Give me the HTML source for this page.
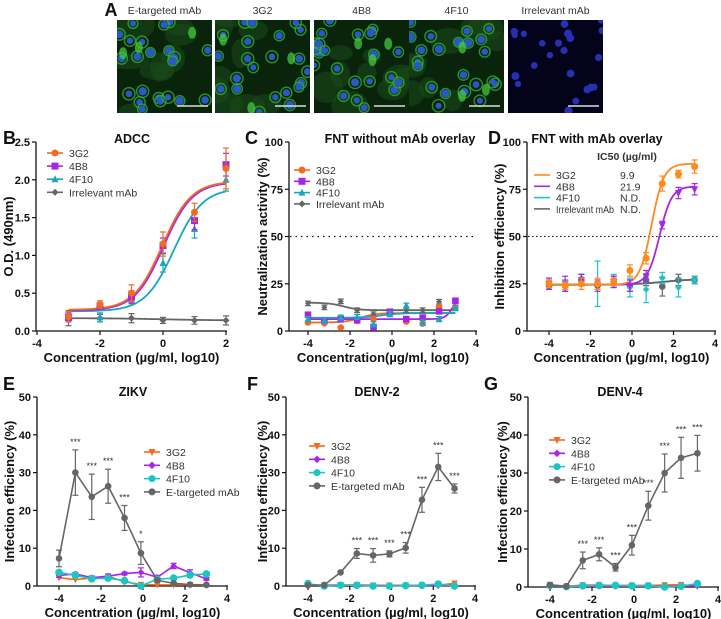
<!DOCTYPE html>
<html><head><meta charset="utf-8"><style>
html,body{margin:0;padding:0;background:#fff}
svg{display:block;font-family:"Liberation Sans",Arial,sans-serif}
.tk{font-size:11px;font-weight:bold;fill:#111}
.at{font-size:13px;font-weight:bold;fill:#111}
.tt{font-size:12.5px;font-weight:bold;fill:#111}
.pl{font-size:18px;font-weight:bold;fill:#111}
.lg{font-size:10.5px;fill:#333}
.st{font-size:9px;fill:#333}
</style></head><body>
<svg id="fig" width="721" height="619" viewBox="0 0 721 619" xmlns="http://www.w3.org/2000/svg">
<g id="imgs"></g>
<g id="charts"></g>
</svg>
<script>
// ---------- Panel A labels ----------
const imgLabels=["E-targeted mAb","3G2","4B8","4F10","Irrelevant mAb"];
// ---------- Panel B (ADCC) ----------
const bX=[-3,-2,-1,0,1,2];
const b3G2=[0.19,0.35,0.50,1.15,1.57,2.15];
const b3G2e=[0.07,0.05,0.11,0.16,0.12,0.27];
const b4B8=[0.18,0.33,0.45,1.13,1.46,2.20];
const b4B8e=[0.06,0.04,0.08,0.10,0.12,0.15];
const b4F10=[0.17,0.18,0.42,0.90,1.35,2.00];
const b4F10e=[0.05,0.06,0.06,0.12,0.12,0.15];
const bIrr=[0.17,0.17,0.17,0.14,0.14,0.14];
const bIrre=[0.1,0.05,0.06,0.04,0.05,0.06];
const bFit3G2=[0.28,1.98,-0.02,0.95];
const bFit4B8=[0.27,1.97,0.02,0.95];
const bFit4F10=[0.26,1.89,0.35,0.95];
const bFitIrr=[0.17,0.14,0,0.5];
// ---------- Panels C, D shared x ----------
const cdX=[-4,-3.22,-2.44,-1.66,-0.88,-0.1,0.68,1.46,2.24,3.02];
const cIrr=[14.6,12.5,15.7,11,8.9,10.2,11,11,15.5,12.5];
const c3G2=[4.5,4.1,1.8,5.4,6.3,9.8,5,3.9,12.9,12.5];
const c4B8=[8.6,5.4,6.3,5.7,2.1,10.2,6.3,7.1,10.4,16];
const c4F10=[6.3,5.4,7.1,7.5,3.6,8.9,13.4,4.5,6.3,12.1];
const cFitIrr=[15,11,-2.3,-1.2];
const cFit3G2=[4.5,9.5,-1.5,1.2];
const cFit4B8=[6.3,19,2.9,2.5];
const cFit4F10=[7,9.5,-0.5,1];
const d3G2=[25,24,25,25,26,32,38.5,78,83,87];
const d3G2e=[2,2,3,3,2,3,3,4,2,3.5];
const d4B8=[25,25,27,24,26,24,29,56,73,75];
const d4B8e=[3,4,3,3,3,3,3,2,3,3];
const d4F10=[25,25,28,25,27,23,22,28,23,27];
const d4F10e=[2,2,2,12,3,5,7,3,5,2];
const dIrr=[24,24,27,24,26,24,27,23.5,27,27];
const dIrre=[2,3,3,2,3,3,3,5,3,2];
const dFit3G2=[24.5,88.5,0.95,1.5];
const dFit4B8=[24.5,76.5,1.33,1.5];
const dFit4F10=[24.5,27.5,1.5,0.6];
const dFitIrr=[24.5,27.5,1.5,0.6];
const ic50Labels=["9.9","21.9","N.D.","N.D."];
// ---------- Panels E, F, G ----------
const efgX=[-4,-3.22,-2.44,-1.66,-0.88,-0.1,0.68,1.46,2.24,3.02];
const eE=[7.3,30,23.6,26.4,18,8.7,1.5,0.7,0.4,0.3];
const eEe=[2.2,6,6,4.5,3.3,3,0.5,0.3,0.2,0.2];
const e3G2=[2.2,1.7,2.1,2.6,1.1,0.4,0.3,0.3,0.3,0.2];
const e4B8=[2.8,3.2,2.2,2.6,3.3,3.6,2.3,5.3,3.5,1.9];
const e4B8e=[0.5,0.4,0.4,0.5,0.4,1.2,0.5,0.7,0.8,0.4];
const e4F10=[3.6,2.8,1.9,2.1,1.4,0,1.8,2.1,2.9,3.2];
const eStars=["","***","***","***","***","*","","","",""];
const fE=[0.2,0.3,3.6,8.6,8.1,8.5,10.1,22.8,31.5,25.8];
const fEe=[0,0,0.3,1.3,1.8,0.8,1.4,3.3,3.6,1.2];
const f3G2=[0.2,0.2,0.3,0.3,0.2,0.2,0.2,0.2,0.2,0.7];
const f4B8=[0.2,0.2,0.2,0.2,0.1,0.1,0.1,0.1,0.1,0.2];
const f4F10=[0.6,0.0,0.2,0.2,0.0,0.0,0.1,0.2,0.5,0.0];
const fStars=["","","","***","***","***","***","***","***","***"];
const gE=[0.5,0.2,7,8.6,5.2,11,21.4,30,34,35.2];
const gEe=[0.2,0.1,2.2,1.7,1,2.6,3.8,5,5.4,4.7];
const g3G2=[0.6,0.2,0.5,0.5,0.4,0.4,0.4,0.5,0.6,0.2];
const g4B8=[0.3,0.2,0.2,0.2,0.2,0.2,0.2,0.2,0.2,0.3];
const g4F10=[0.4,0.1,0.3,0.4,0.4,0.3,0.3,0.0,0.2,0.9];
const gStars=["","","***","***","***","***","***","***","***","***"];
const ticksB=[0,0.5,1,1.5,2,2.5];
const ticksB_lbl=["0.0","0.5","1.0","1.5","2.0","2.5"];
const ticksPct=[0,25,50,75,100];
const ticksInf=[0,10,20,30,40,50];
const xTicksB=[-4,-2,0,2];
const xTicks=[-4,-2,0,2,4];

const NS="http://www.w3.org/2000/svg";
const OR="#f36a21",PU="#a526e8",CY="#1cc4c4",TE="#1aa6bd",GR="#666666",DOR="#ff8a1c";
function mk(tag,at,par){const e=document.createElementNS(NS,tag);for(const k in at)e.setAttribute(k,at[k]);(par||document.getElementById('charts')).appendChild(e);return e;}
function txt(s,x,y,cls,par,anchor,extra){const t=mk('text',Object.assign({x:x,y:y,class:cls,'text-anchor':anchor||'middle'},extra||{}),par);t.textContent=s;return t;}

// ---------- microscopy images ----------
(function(){
 const g=document.getElementById('imgs');
 const xs=[117,215,314,409,508],w=95,h=93,y0=20;
 let seed=7;function rnd(){seed=(seed*9301+49297)%233280;return seed/233280;}
 for(let i=0;i<5;i++){
  const c=mk('g',{},g);
  
  
  mk('rect',{x:xs[i],y:y0,width:w,height:h,fill:i==4?'#03031c':'#0a240c'},c);
  const clip='cl'+i;const cp=mk('clipPath',{id:clip},c);mk('rect',{x:xs[i],y:y0,width:w,height:h},cp);
  const inner=mk('g',{'clip-path':'url(#'+clip+')'},c);
  if(i<4){for(let k=0;k<9;k++)mk('ellipse',{cx:xs[i]+rnd()*w,cy:y0+rnd()*h,rx:8+rnd()*14,ry:6+rnd()*10,fill:'#1a4a1a',opacity:0.55},inner);}
  for(let k=0;k<22;k++){const cx=xs[i]+rnd()*w,cy=y0+rnd()*h;
   if(i<4)mk('circle',{cx:cx,cy:cy,r:4.8+rnd()*1.5,fill:'none',stroke:'#34b534','stroke-width':1.4,opacity:0.75},inner);
   mk('circle',{cx:cx,cy:cy,r:3+rnd()*1.2,fill:i==4?'#2630b0':'#2a58c4'},inner);}
  if(i<4)for(let k=0;k<3;k++)mk('ellipse',{cx:xs[i]+rnd()*w,cy:y0+rnd()*h,rx:4,ry:6,fill:'#46d040',opacity:0.7},inner);
  mk('line',{x1:xs[i]+w-35,y1:y0+h-7,x2:xs[i]+w-4,y2:y0+h-7,stroke:'#ddd','stroke-width':1.5},c);
  const t=txt(imgLabels[i],xs[i]+w/2,14,'lg',g);t.setAttribute('font-size','11');
 }
 const a=txt('A',111,16,'pl',g);
})();

function axes(cfg){
 const g=mk('g',{});
 
 
 const X=v=>cfg.x0+(v-cfg.xa)*(cfg.x1-cfg.x0)/(cfg.xb-cfg.xa);
 const Y=v=>cfg.y0+(v-cfg.ya)*(cfg.y1-cfg.y0)/(cfg.yb-cfg.ya);
 mk('line',{x1:cfg.ax,y1:cfg.y0,x2:cfg.xEnd,y2:cfg.y0,stroke:'#111','stroke-width':1.3},g);
 mk('line',{x1:cfg.ax,y1:cfg.y0,x2:cfg.ax,y2:cfg.y1,stroke:'#111','stroke-width':1.3},g);
 cfg.yt.forEach((v,i)=>{mk('line',{x1:cfg.ax-4,y1:Y(v),x2:cfg.ax,y2:Y(v),stroke:'#111','stroke-width':1.2},g);txt(cfg.ytl?cfg.ytl[i]:String(v),cfg.ax-6,Y(v)+4,'tk',g,'end');});
 cfg.xt.forEach(v=>{mk('line',{x1:X(v),y1:cfg.y0,x2:X(v),y2:cfg.y0+4,stroke:'#111','stroke-width':1.2},g);txt(String(v),X(v),cfg.y0+16,'tk',g);});
 txt(cfg.xl,(cfg.ax+cfg.xEnd)/2,cfg.y0+31,'at',g);
 txt(cfg.yl,0,0,'at',g,'middle',{transform:'translate('+cfg.ylx+','+(cfg.y0+cfg.y1)/2+') rotate(-90)'});
 txt(cfg.title,cfg.tx,cfg.ty,'tt',g);
 txt(cfg.letter,cfg.lx,cfg.ly,'pl',g,'start');
 return {g,X,Y};
}
function marker(g,type,x,y,col,s){
 s=s||3.5;
 if(type=='circle')mk('circle',{cx:x,cy:y,r:s,fill:col},g);
 else if(type=='square')mk('rect',{x:x-s,y:y-s,width:2*s,height:2*s,fill:col},g);
 else if(type=='tri')mk('polygon',{points:(x)+','+(y-s-0.5)+' '+(x-s)+','+(y+s-0.5)+' '+(x+s)+','+(y+s-0.5),fill:col},g);
 else if(type=='dtri')mk('polygon',{points:(x)+','+(y+s+0.5)+' '+(x-s)+','+(y-s+0.5)+' '+(x+s)+','+(y-s+0.5),fill:col},g);
 else if(type=='diamond')mk('polygon',{points:x+','+(y-s)+' '+(x+s)+','+y+' '+x+','+(y+s)+' '+(x-s)+','+y,fill:col},g);
 else if(type=='star'){mk('circle',{cx:x,cy:y,r:s*0.8,fill:col},g);mk('line',{x1:x-s,y1:y,x2:x+s,y2:y,stroke:col,'stroke-width':1.5},g);mk('line',{x1:x,y1:y-s,x2:x,y2:y+s,stroke:col,'stroke-width':1.5},g);}
}
function series(P,name,xs,ys,es,col,type,connect,s){
 const g=mk('g',{},P.g);
 
 
 if(connect)mk('polyline',{points:xs.map((x,i)=>P.X(x)+','+P.Y(ys[i])).join(' '),fill:'none',stroke:col,'stroke-width':1.6},g);
 xs.forEach((x,i)=>{const e=es?es[i]:0;if(e>0){const px=P.X(x),a=P.Y(ys[i]+e),b=P.Y(Math.max(ys[i]-e,0));
  mk('line',{x1:px,y1:a,x2:px,y2:b,stroke:col,'stroke-width':1.2},g);
  mk('line',{x1:px-3,y1:a,x2:px+3,y2:a,stroke:col,'stroke-width':1.2},g);
  mk('line',{x1:px-3,y1:b,x2:px+3,y2:b,stroke:col,'stroke-width':1.2},g);}
  marker(g,type,P.X(x),P.Y(ys[i]),col,s);});
}
function fit(P,name,p,xa,xb,col,dec){
 const pts=[];for(let k=0;k<=80;k++){const x=xa+(xb-xa)*k/80;let y;
  if(dec)y=p[1]+(p[0]-p[1])/(1+Math.pow(10,(p[2]-x)*p[3]));else y=p[0]+(p[1]-p[0])/(1+Math.pow(10,(p[2]-x)*p[3]));pts.push(P.X(x)+','+P.Y(y));}
 const l=mk('polyline',{points:pts.join(' '),fill:'none',stroke:col,'stroke-width':1.8},P.g);
 
 
}
function legend(P,x,y0,dy,items,lineOnly,fs){
 const g=mk('g',{},P.g);
 
 
 items.forEach((it,i)=>{const y=y0+i*dy;
  const e=mk('g',{},g);
  
  
  mk('line',{x1:x-8,y1:y,x2:x+8,y2:y,stroke:it[1],'stroke-width':1.6},e);
  if(!lineOnly)marker(e,it[2],x,y,it[1],3.5);
  const t=txt(it[0],x+14,y+4,'lg',e,'start');
  if(fs)t.setAttribute('font-size',fs);
  if(it[3]){t.setAttribute('textLength',it[3]);t.setAttribute('lengthAdjust','spacingAndGlyphs');}});
}

// ---- B ----
const B=axes({name:'panel-b-adcc',x0:37,x1:226,xa:-4,xb:2,y0:331,y1:142,ya:0,yb:2.5,ax:36,xEnd:227,yt:ticksB,ytl:ticksB_lbl,xt:xTicksB,
 xl:'Concentration (µg/ml, log10)',yl:'O.D. (490nm)',ylx:13,title:'ADCC',tx:132,ty:143,letter:'B',lx:3,ly:144});
fit(B,'fit-irrelevant',bFitIrr,-3,2,GR);
fit(B,'fit-4f10',bFit4F10,-3,2,TE);
fit(B,'fit-4b8',bFit4B8,-3,2,PU);
fit(B,'fit-3g2',bFit3G2,-3,2,OR);
series(B,'series-irrelevant',bX,bIrr,bIrre,GR,'diamond',false);
series(B,'series-4f10',bX,b4F10,b4F10e,TE,'tri',false);
series(B,'series-4b8',bX,b4B8,b4B8e,PU,'square',false);
series(B,'series-3g2',bX,b3G2,b3G2e,OR,'circle',false);
legend(B,55,153,13.1,[['3G2',OR,'circle'],['4B8',PU,'square'],['4F10',TE,'tri'],['Irrelevant mAb',GR,'diamond']]);

// ---- C ----
const C=axes({name:'panel-c-fnt-without-overlay',x0:308,x1:476,xa:-4,xb:4,y0:331,y1:142,ya:0,yb:100,ax:289,xEnd:477,yt:ticksPct,xt:xTicks,
 xl:'Concentration(µg/ml, log10)',yl:'Neutralization activity (%)',ylx:267,title:'FNT without mAb overlay',tx:400,ty:143,letter:'C',lx:245,ly:144});
mk('line',{x1:290,y1:C.Y(50),x2:476,y2:C.Y(50),stroke:'#111','stroke-width':1.3,'stroke-dasharray':'1.5,4'},C.g);
fit(C,'fit-irrelevant',cFitIrr,-4,3.02,GR,true);
fit(C,'fit-3g2',cFit3G2,-4,3.02,OR);
fit(C,'fit-4b8',cFit4B8,-4,3.02,PU);
fit(C,'fit-4f10',cFit4F10,-4,3.02,TE);
series(C,'series-irrelevant',cdX,cIrr,cIrr.map(()=>1.2),GR,'diamond',false,3);
series(C,'series-3g2',cdX,c3G2,null,OR,'circle',false,3.3);
series(C,'series-4b8',cdX,c4B8,null,PU,'square',false,3.3);
series(C,'series-4f10',cdX,c4F10,c4F10.map(()=>1.3),TE,'tri',false,3.5);
legend(C,302,170,11.3,[['3G2',OR,'circle'],['4B8',PU,'square'],['4F10',TE,'tri'],['Irrelevant mAb',GR,'diamond']]);

// ---- D ----
const D=axes({name:'panel-d-fnt-with-overlay',x0:549,x1:715,xa:-4,xb:4,y0:331,y1:142,ya:0,yb:100,ax:527,xEnd:716,yt:ticksPct,xt:xTicks,
 xl:'Concentration (µg/ml, log10)',yl:'Inhibition efficiency (%)',ylx:504,title:'FNT with mAb overlay',tx:597,ty:143,letter:'D',lx:488,ly:144});
mk('line',{x1:528,y1:D.Y(50),x2:720,y2:D.Y(50),stroke:'#111','stroke-width':1,'stroke-dasharray':'1.5,2.5'},D.g);
fit(D,'fit-4f10',dFit4F10,-4,3.02,CY);
fit(D,'fit-irrelevant',dFitIrr,-4,3.02,GR);
fit(D,'fit-4b8',dFit4B8,-4,3.02,PU);
fit(D,'fit-3g2',dFit3G2,-4,3.02,DOR);
series(D,'series-irrelevant',cdX,dIrr,dIrre,GR,'circle',false,3.3);
series(D,'series-4f10',cdX,d4F10,d4F10e,CY,'star',false,3);
series(D,'series-4b8',cdX,d4B8,d4B8e,PU,'dtri',false,3.5);
series(D,'series-3g2',cdX,d3G2,d3G2e,DOR,'circle',false,3.5);
const ic=txt('IC50 (µg/ml)',627,160,'lg',D.g);ic.setAttribute('font-weight','bold');ic.setAttribute('font-size','10');
legend(D,542,175,11.3,[['3G2',DOR],['4B8',PU],['4F10',CY],['Irrelevant mAb',GR,null,58]],true,'10');
ic50Labels.forEach((s,i)=>{const t=txt(s,620,179+i*11.3,'lg',D.g,'start');t.setAttribute('font-size','10');});

// ---- E, F, G ----
function infPanel(o,xs,E,Ee,s3,s4,s4e,s5,stars){
 const P=axes(o);
 series(P,'series-3g2',xs,s3,null,OR,'dtri',true,3.3);
 series(P,'series-4b8',xs,s4,s4e,PU,'star',true,3);
 series(P,'series-4f10',xs,s5,null,CY,'circle',true,3.8);
 series(P,'series-e-targeted',xs,E,Ee,GR,'circle',true,3.3);
 stars.forEach((s,i)=>{if(s){const t=txt(s,P.X(xs[i]),P.Y(E[i]+Ee[i])-5,'st',P.g);}});
 legend(P,o.lgx,o.lgy,13.3,[['3G2',OR,'dtri'],['4B8',PU,'star'],['4F10',CY,'circle'],['E-targeted mAb',GR,'circle']]);
}
infPanel({name:'panel-e-zikv',x0:59,x1:227,xa:-4,xb:4,y0:586,y1:397,ya:0,yb:50,ax:37,xEnd:228,yt:ticksInf,xt:xTicks,
 xl:'Concentration (µg/ml, log10)',yl:'Infection efficiency (%)',ylx:14,title:'ZIKV',tx:133,ty:396,letter:'E',lx:3,ly:390,lgx:152,lgy:452},
 efgX,eE,eEe,e3G2,e4B8,e4B8e,e4F10,eStars);
infPanel({name:'panel-f-denv2',x0:308,x1:475,xa:-4,xb:4,y0:586,y1:397,ya:0,yb:50,ax:286,xEnd:476,yt:ticksInf,xt:xTicks,
 xl:'Concentration (µg/ml, log10)',yl:'Infection efficiency (%)',ylx:267,title:'DENV-2',tx:377,ty:396,letter:'F',lx:247,ly:390,lgx:317,lgy:446},
 efgX,fE,fEe,f3G2,f4B8,null,f4F10,fStars);
infPanel({name:'panel-g-denv4',x0:550,x1:718,xa:-4,xb:4,y0:587,y1:397,ya:0,yb:50,ax:528,xEnd:719,yt:ticksInf,xt:xTicks,
 xl:'Concentration (µg/ml, log10)',yl:'Infection efficiency (%)',ylx:507,title:'DENV-4',tx:620,ty:396,letter:'G',lx:484,ly:390,lgx:557,lgy:440},
 efgX,gE,gEe,g3G2,g4B8,null,g4F10,gStars);
</script>
</body></html>
